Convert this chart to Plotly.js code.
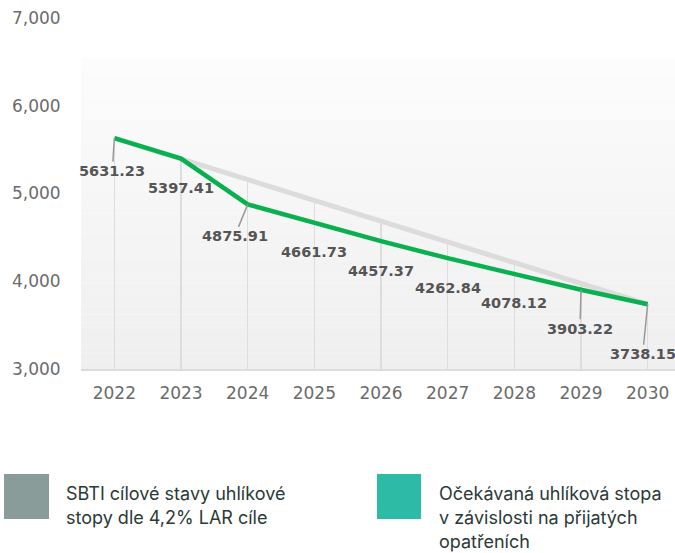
<!DOCTYPE html>
<html>
<head>
<meta charset="utf-8">
<script src="https://cdn.plot.ly/plotly-3.0.1.min.js"></script>
<style>html,body{margin:0;padding:0;background:#fff;}#chart{width:675px;height:553px;}</style>
</head>
<body>
<div id="chart"></div>
<script>
const years = [2022, 2023, 2024, 2025, 2026, 2027, 2028, 2029, 2030];
const sbtiTarget = [5631.23, 5395, 5158, 4922, 4685, 4449, 4212, 3976, 3738];
const expected = [5631.23, 5397.41, 4875.91, 4661.73, 4457.37, 4262.84, 4078.12, 3903.22, 3738.15];
const yTicks = [3000, 4000, 5000, 6000, 7000];
const legendLabels = [["SBTI cílové stavy uhlíkové", "stopy dle 4,2% LAR cíle"], ["Očekávaná uhlíková stopa", "v závislosti na přijatých", "opatřeních"]];
const legendColors = ["#8a9c99", "#2dbba6"];

// label offsets (pixels) and whether a leader line is drawn
const labelOffsets = [[-2, 33, true], [0, 29, false], [-13, 32, true], [0, 29, false], [0, 30, false], [0, 30, false], [0, 29, false], [-1, 39, true], [-5, 50, true]];

const L = 81, T = 18, W = 594, H = 351;
const px = v => (v - L) / W;
const py = v => (T + H - v) / H;

const traces = [
  {x: years, y: sbtiTarget, type: 'bar', width: 0.024, marker: {color: '#dddddd'}, hoverinfo: 'skip'},
  {x: years, y: sbtiTarget, type: 'scatter', mode: 'lines', line: {color: '#dcdcdc', width: 5}, hoverinfo: 'skip'},
  {x: years, y: expected, type: 'scatter', mode: 'lines', line: {color: '#08b04f', width: 4.5}, hoverinfo: 'skip'}
];

const shapes = [];
const nBands = 40, yBot = 3000, yTop = 6545;
for (let i = 0; i < nBands; i++) {
  const t = i / (nBands - 1);
  const c = Math.round(239 + (252 - 239) * t);
  shapes.push({type: 'rect', xref: 'paper', yref: 'y', x0: 0, x1: 1,
    y0: yBot + (yTop - yBot) * i / nBands, y1: yBot + (yTop - yBot) * (i + 1) / nBands,
    fillcolor: `rgb(${c},${c},${c})`, line: {width: 0}, layer: 'below'});
}
// legend swatches
shapes.push({type: 'rect', xref: 'paper', yref: 'paper', x0: px(4), x1: px(49), y0: py(474), y1: py(519), fillcolor: legendColors[0], line: {width: 0}});
shapes.push({type: 'rect', xref: 'paper', yref: 'paper', x0: px(377), x1: px(421), y0: py(474), y1: py(519), fillcolor: legendColors[1], line: {width: 0}});

const annotations = [];
years.forEach((yr, i) => {
  const o = labelOffsets[i];
  annotations.push({x: yr, y: expected[i], xref: 'x', yref: 'y', text: expected[i].toFixed(2),
    showarrow: true, ax: o[0], ay: o[1], arrowhead: 0, arrowwidth: 1.5, standoff: 0,
    arrowcolor: o[2] ? '#999999' : 'rgba(0,0,0,0)',
    font: {family: '"DejaVu Sans", sans-serif', size: 14.5, color: '#555555', weight: 'bold'},
    xanchor: 'center', yanchor: 'middle'});
});
const legFont = {family: 'Inter, sans-serif', size: 18, color: '#2b3a38'};
const legX = [64, 437];
legendLabels.forEach((lines, k) => {
  lines.forEach((ln, j) => {
    annotations.push({xref: 'paper', yref: 'paper', x: px(legX[k]), y: py(493 + 24 * j), text: ln,
      showarrow: false, xanchor: 'left', yanchor: 'middle', font: legFont});
  });
});

const tickFont = {family: '"DejaVu Sans", sans-serif', size: 17, color: '#6b6b6b'};
const layout = {
  width: 675, height: 553,
  margin: {l: L, r: 0, t: T, b: 553 - T - H, pad: 0},
  paper_bgcolor: '#ffffff', plot_bgcolor: '#ffffff',
  showlegend: false, hovermode: false, bargap: 0,
  xaxis: {type: 'linear', range: [2021.5, 2030.41], tickvals: years, ticktext: years.map(String),
    showgrid: false, zeroline: false, showline: true, linecolor: '#dcdcdc', linewidth: 2,
    ticks: 'outside', ticklen: 8, tickcolor: 'rgba(0,0,0,0)', tickfont: tickFont},
  yaxis: {range: [3000, 7000], tickvals: yTicks, tickformat: ',d',
    showgrid: false, zeroline: false, showline: false,
    ticks: 'outside', ticklen: 16, tickcolor: 'rgba(0,0,0,0)', tickfont: tickFont},
  shapes: shapes,
  annotations: annotations
};

Plotly.newPlot('chart', traces, layout, {displayModeBar: false, staticPlot: true});
</script>
</body>
</html>
